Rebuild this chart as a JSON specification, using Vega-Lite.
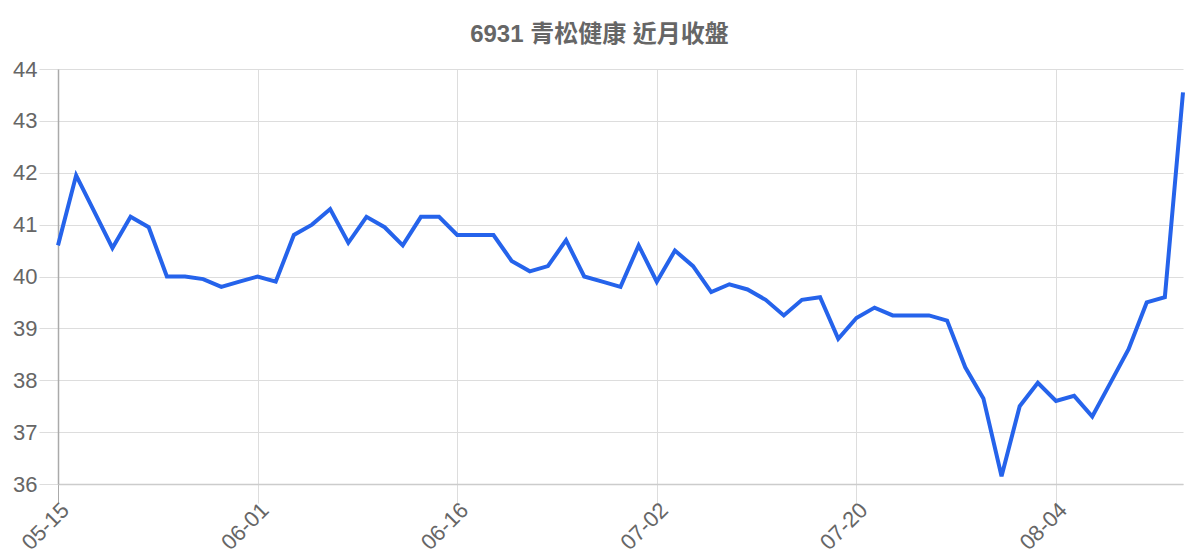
{
  "$schema": "https://vega.github.io/schema/vega-lite/v6.json",
  "autosize": "none",
  "width": 1125,
  "height": 415,
  "padding": {"left": 58, "top": 69, "right": 17, "bottom": 76},
  "background": "white",
  "title": {
    "text": "6931 青松健康 近月收盤",
    "font": "Liberation Sans, Noto Sans CJK TC",
    "fontSize": 24,
    "fontWeight": "bold",
    "color": "#666666",
    "anchor": "middle",
    "frame": "group",
    "dx": -21,
    "offset": 11
  },
  "config": {
    "view": {"stroke": null},
    "axis": {
      "labelFont": "Liberation Sans",
      "labelColor": "#666666",
      "labelFontSize": 22,
      "gridColor": "#dddddd",
      "gridWidth": 1,
      "tickColor": "#dddddd",
      "tickSize": 19,
      "titleFontSize": 0
    }
  },
  "data": {
    "values": [
      {"date": "05-15", "close": 40.6},
      {"date": "05-18", "close": 41.95},
      {"date": "05-19", "close": 41.25},
      {"date": "05-20", "close": 40.55},
      {"date": "05-21", "close": 41.15},
      {"date": "05-22", "close": 40.95},
      {"date": "05-25", "close": 40.0},
      {"date": "05-26", "close": 40.0},
      {"date": "05-27", "close": 39.95},
      {"date": "05-28", "close": 39.8},
      {"date": "05-29", "close": 39.9},
      {"date": "06-01", "close": 40.0},
      {"date": "06-02", "close": 39.9},
      {"date": "06-03", "close": 40.8},
      {"date": "06-04", "close": 41.0},
      {"date": "06-05", "close": 41.3},
      {"date": "06-08", "close": 40.65},
      {"date": "06-09", "close": 41.15},
      {"date": "06-10", "close": 40.95},
      {"date": "06-11", "close": 40.6},
      {"date": "06-12", "close": 41.15},
      {"date": "06-15", "close": 41.15},
      {"date": "06-16", "close": 40.8},
      {"date": "06-17", "close": 40.8},
      {"date": "06-18", "close": 40.8},
      {"date": "06-19", "close": 40.3},
      {"date": "06-22", "close": 40.1},
      {"date": "06-23", "close": 40.2},
      {"date": "06-24", "close": 40.7},
      {"date": "06-25", "close": 40.0},
      {"date": "06-26", "close": 39.9},
      {"date": "06-29", "close": 39.8},
      {"date": "06-30", "close": 40.6},
      {"date": "07-02", "close": 39.9},
      {"date": "07-03", "close": 40.5},
      {"date": "07-06", "close": 40.2},
      {"date": "07-07", "close": 39.7},
      {"date": "07-08", "close": 39.85},
      {"date": "07-09", "close": 39.75},
      {"date": "07-10", "close": 39.55},
      {"date": "07-13", "close": 39.25},
      {"date": "07-14", "close": 39.55},
      {"date": "07-15", "close": 39.6},
      {"date": "07-16", "close": 38.8},
      {"date": "07-20", "close": 39.2},
      {"date": "07-21", "close": 39.4},
      {"date": "07-22", "close": 39.25},
      {"date": "07-23", "close": 39.25},
      {"date": "07-24", "close": 39.25},
      {"date": "07-27", "close": 39.15},
      {"date": "07-28", "close": 38.25},
      {"date": "07-29", "close": 37.65},
      {"date": "07-30", "close": 36.15},
      {"date": "07-31", "close": 37.5},
      {"date": "08-03", "close": 37.95},
      {"date": "08-04", "close": 37.6},
      {"date": "08-05", "close": 37.7},
      {"date": "08-06", "close": 37.3},
      {"date": "08-07", "close": 37.95},
      {"date": "08-10", "close": 38.6},
      {"date": "08-11", "close": 39.5},
      {"date": "08-12", "close": 39.6},
      {"date": "08-13", "close": 43.55}
    ]
  },
  "mark": {"type": "line", "color": "#2563eb", "strokeWidth": 4, "strokeJoin": "miter", "clip": false},
  "encoding": {
    "x": {
      "field": "date",
      "type": "ordinal",
      "sort": null,
      "scale": {"type": "point", "padding": 0},
      "axis": {
        "title": null,
        "values": ["05-15", "06-01", "06-16", "07-02", "07-20", "08-04"],
        "labelAngle": -45,
        "labelPadding": -4,
        "grid": true,
        "domainColor": "#cccccc",
        "domainWidth": 1.5,
        "tickColor": {"condition": {"test": "datum.index === 0", "value": "#aaaaaa"}, "value": "#dddddd"}
      }
    },
    "y": {
      "field": "close",
      "type": "quantitative",
      "scale": {"domain": [36, 44], "nice": false, "zero": false},
      "axis": {
        "title": null,
        "values": [36, 37, 38, 39, 40, 41, 42, 43, 44],
        "grid": true,
        "domainColor": "#aaaaaa",
        "domainWidth": 1.5,
        "labelPadding": 2
      }
    }
  }
}
